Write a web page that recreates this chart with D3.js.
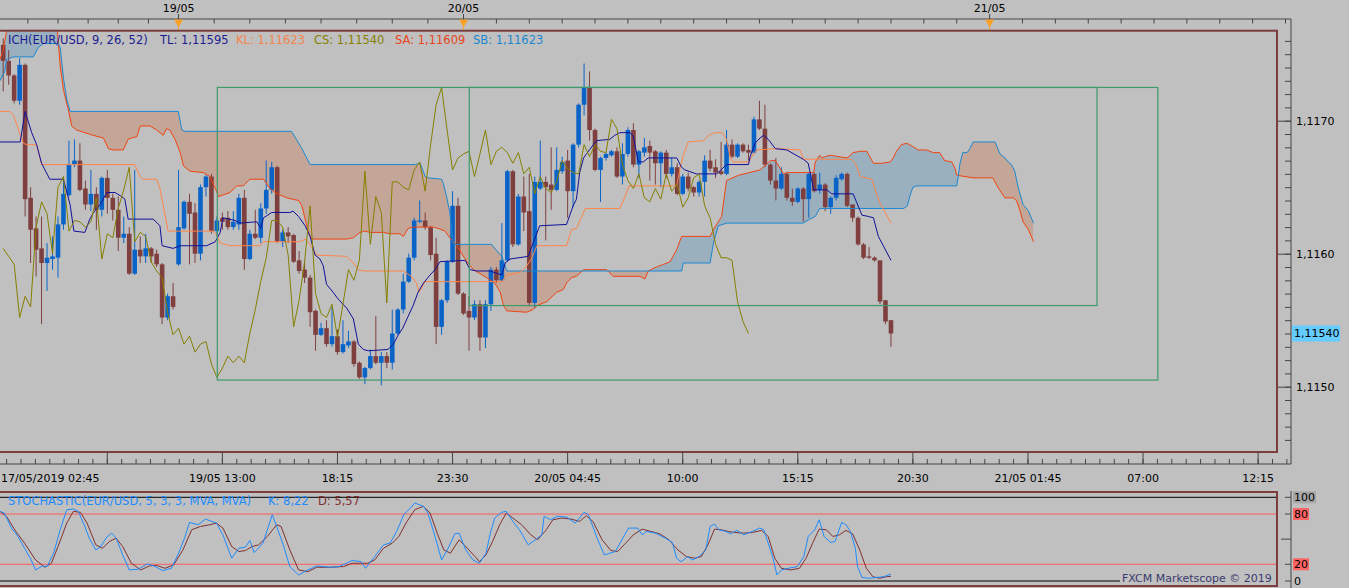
<!DOCTYPE html>
<html>
<head>
<meta charset="utf-8">
<script src="https://cdn.jsdelivr.net/npm/d3@7/dist/d3.min.js"></script>
<style>
  html, body { margin: 0; padding: 0; background: #c0c0c0; overflow: hidden; }
  svg { display: block; font-family: "DejaVu Sans", Verdana, sans-serif; font-size: 11px; }
  .legend { font-size: 11.5px; }
</style>
</head>
<body>
<div id="chart"></div>
<script>
// EUR/USD 15 min candles, bar 0 = first visible bar (17/05 03:00)
let open = [1.11757,1.11745,1.11734,1.11715,1.11742,1.11642,1.11619,1.11604,1.11593,1.11596,1.11597,1.11622,1.11644,1.11667,1.11670,1.11649,1.11637,1.11645,1.11633,1.11657,
  1.11642,1.11633,1.11612,1.11615,1.11585,1.11603,1.11598,1.11604,1.11600,1.11592,1.11552,1.11568,1.11592,1.11619,1.11639,1.11631,1.11600,1.11650,1.11658,1.11617,
  1.11627,1.11627,1.11620,1.11622,1.11642,1.11596,1.11615,1.11612,1.11634,1.11648,1.11665,1.11609,1.11616,1.11614,1.11595,1.11588,1.11582,1.11557,1.11539,1.11544,
  1.11532,1.11538,1.11526,1.11531,1.11534,1.11518,1.11507,1.11514,1.11523,1.11518,1.11523,1.11518,1.11540,1.11558,1.11579,1.11597,1.11624,1.11625,1.11620,1.11600,
  1.11545,1.11565,1.11594,1.11636,1.11570,1.11557,1.11552,1.11562,1.11537,1.11562,1.11588,1.11580,1.11595,1.11662,1.11607,1.11643,1.11632,1.11563,1.11649,1.11654,
  1.11652,1.11648,1.11662,1.11670,1.11647,1.11682,1.11712,1.11725,1.11693,1.11663,1.11672,1.11674,1.11677,1.11658,1.11675,1.11693,1.11667,1.11676,1.11681,1.11677,
  1.11668,1.11676,1.11660,1.11665,1.11645,1.11658,1.11650,1.11646,1.11654,1.11670,1.11665,1.11662,1.11660,1.11682,1.11673,1.11682,1.11678,1.11676,1.11701,1.11694,
  1.11667,1.11655,1.11649,1.11660,1.11642,1.11639,1.11649,1.11641,1.11660,1.11648,1.11652,1.11635,1.11642,1.11656,1.11660,1.11637,1.11627,1.11607,1.11598,1.11597,
  1.11595,1.11565,1.11550];
let high = [1.11762,1.11753,1.11735,1.11747,1.11743,1.11650,1.11628,1.11628,1.11608,1.11613,1.11628,1.11658,1.11685,1.11686,1.11683,1.11655,1.11663,1.11650,1.11658,1.11663,
  1.11645,1.11643,1.11628,1.11620,1.11663,1.11613,1.11615,1.11605,1.11603,1.11593,1.11570,1.11578,1.11663,1.11640,1.11645,1.11638,1.11652,1.11659,1.11660,1.11628,
  1.11631,1.11632,1.11632,1.11645,1.11648,1.11618,1.11633,1.11638,1.11670,1.11669,1.11666,1.11618,1.11620,1.11615,1.11602,1.11595,1.11584,1.11558,1.11548,1.11550,
  1.11560,1.11543,1.11550,1.11542,1.11535,1.11519,1.11515,1.11528,1.11553,1.11526,1.11526,1.11558,1.11559,1.11585,1.11600,1.11627,1.11640,1.11631,1.11621,1.11612,
  1.11566,1.11595,1.11647,1.11642,1.11571,1.11568,1.11565,1.11565,1.11565,1.11590,1.11590,1.11623,1.11663,1.11663,1.11645,1.11658,1.11660,1.11658,1.11685,1.11658,
  1.11680,1.11680,1.11673,1.11678,1.11683,1.11713,1.11743,1.11737,1.11694,1.11673,1.11676,1.11678,1.11680,1.11683,1.11695,1.11698,1.11678,1.11687,1.11685,1.11678,
  1.11677,1.11678,1.11672,1.11668,1.11660,1.11661,1.11651,1.11655,1.11674,1.11678,1.11671,1.11684,1.11693,1.11686,1.11683,1.11683,1.11682,1.11703,1.11715,1.11712,
  1.11668,1.11672,1.11665,1.11661,1.11649,1.11650,1.11650,1.11661,1.11661,1.11661,1.11653,1.11643,1.11659,1.11661,1.11661,1.11637,1.11628,1.11608,1.11605,1.11598,
  1.11595,1.11565,1.11550];
let low = [1.11722,1.11727,1.11713,1.11712,1.11628,1.11593,1.11583,1.11547,1.11572,1.11588,1.11582,1.11618,1.11643,1.11665,1.11647,1.11633,1.11632,1.11618,1.11628,1.11630,
  1.11625,1.11602,1.11608,1.11584,1.11584,1.11593,1.11593,1.11593,1.11590,1.11547,1.11550,1.11558,1.11591,1.11618,1.11592,1.11593,1.11595,1.11643,1.11615,1.11613,
  1.11618,1.11618,1.11618,1.11618,1.11588,1.11595,1.11611,1.11608,1.11630,1.11645,1.11608,1.11605,1.11608,1.11593,1.11585,1.11578,1.11545,1.11527,1.11538,1.11530,
  1.11530,1.11524,1.11525,1.11529,1.11515,1.11506,1.11502,1.11513,1.11517,1.11501,1.11514,1.11513,1.11539,1.11555,1.11578,1.11595,1.11623,1.11618,1.11595,1.11532,
  1.11539,1.11563,1.11593,1.11569,1.11554,1.11527,1.11550,1.11527,1.11529,1.11557,1.11578,1.11579,1.11594,1.11605,1.11606,1.11617,1.11561,1.11559,1.11648,1.11610,
  1.11633,1.11647,1.11660,1.11627,1.11635,1.11680,1.11704,1.11685,1.11662,1.11639,1.11670,1.11673,1.11657,1.11652,1.11673,1.11665,1.11657,1.11673,1.11655,1.11652,
  1.11650,1.11657,1.11658,1.11644,1.11644,1.11647,1.11643,1.11643,1.11643,1.11662,1.11657,1.11659,1.11659,1.11672,1.11672,1.11676,1.11670,1.11675,1.11693,1.11665,
  1.11652,1.11640,1.11648,1.11640,1.11636,1.11638,1.11624,1.11627,1.11646,1.11645,1.11632,1.11630,1.11640,1.11655,1.11635,1.11624,1.11606,1.11596,1.11596,1.11594,
  1.11562,1.11547,1.11530];
let close = [1.11745,1.11734,1.11715,1.11742,1.11641,1.11618,1.11603,1.11593,1.11597,1.11598,1.11622,1.11645,1.11667,1.11670,1.11648,1.11637,1.11645,1.11633,1.11657,1.11642,
  1.11633,1.11612,1.11615,1.11585,1.11603,1.11598,1.11604,1.11598,1.11592,1.11552,1.11568,1.11560,1.11620,1.11639,1.11630,1.11600,1.11650,1.11658,1.11617,1.11625,
  1.11624,1.11620,1.11624,1.11642,1.11596,1.11615,1.11612,1.11634,1.11648,1.11665,1.11609,1.11616,1.11613,1.11594,1.11587,1.11582,1.11556,1.11539,1.11544,1.11532,
  1.11538,1.11526,1.11532,1.11534,1.11517,1.11507,1.11514,1.11523,1.11518,1.11523,1.11518,1.11540,1.11558,1.11579,1.11597,1.11625,1.11625,1.11620,1.11599,1.11545,
  1.11565,1.11594,1.11636,1.11570,1.11555,1.11552,1.11562,1.11537,1.11562,1.11588,1.11580,1.11595,1.11662,1.11607,1.11643,1.11631,1.11563,1.11654,1.11654,1.11650,
  1.11648,1.11663,1.11669,1.11647,1.11682,1.11712,1.11725,1.11693,1.11663,1.11672,1.11675,1.11677,1.11658,1.11675,1.11693,1.11667,1.11677,1.11680,1.11676,1.11668,
  1.11676,1.11660,1.11665,1.11645,1.11658,1.11649,1.11646,1.11654,1.11670,1.11664,1.11661,1.11660,1.11682,1.11673,1.11682,1.11677,1.11676,1.11701,1.11694,1.11667,
  1.11655,1.11649,1.11660,1.11642,1.11639,1.11649,1.11641,1.11660,1.11647,1.11652,1.11635,1.11642,1.11657,1.11660,1.11636,1.11627,1.11607,1.11597,1.11597,1.11595,
  1.11564,1.11549,1.11540];

// ichimoku lines as [bar, price]
let tenkan = [[-0.6,1.11684],[3.1,1.11684],[4.0,1.11707],[5.2,1.11691],[6.1,1.11682],[7.0,1.11668],[8.5,1.11656],[11.0,1.11656],[12.2,1.11637],[12.9,1.11617],[14.9,1.11616],[15.8,1.11626],[16.5,1.11631],[17.7,1.11637],[18.9,1.11646],[20.4,1.11646],[21.6,1.11643],[22.2,1.11641],[22.8,1.11626],[27.4,1.11626],[28.6,1.11621],[29.0,1.11606],[31.0,1.11604],[32.3,1.11606],[37.1,1.11606],[38.7,1.11609],[39.6,1.11616],[40.1,1.11627],[42.3,1.11625],[43.2,1.11623],[46.3,1.11624],[47.0,1.11619],[47.5,1.11627],[49.0,1.11631],[52.3,1.11631],[52.9,1.11632],[53.9,1.11628],[55.1,1.11621],[56.0,1.11613],[56.9,1.11599],[57.8,1.11596],[58.4,1.11591],[59.0,1.11577],[60.2,1.11571],[61.1,1.11566],[62.7,1.11559],[63.9,1.11551],[64.8,1.11532],[65.7,1.11528],[66.6,1.11527],[70.2,1.11528],[71.2,1.11532],[72.1,1.11539],[72.9,1.11544],[73.9,1.11553],[74.8,1.11561],[75.7,1.11571],[76.7,1.11578],[77.9,1.11584],[78.8,1.11588],[79.7,1.11594],[84.3,1.11595],[85.2,1.11588],[86.4,1.11587],[88.8,1.11587],[91.0,1.11584],[91.6,1.11593],[92.5,1.11596],[95.8,1.11598],[96.7,1.11608],[97.9,1.11621],[102.8,1.11622],[103.4,1.11629],[104.0,1.11636],[104.6,1.11641],[105.2,1.11661],[105.9,1.11672],[107.7,1.11682],[108.3,1.11685],[110.7,1.11686],[111.6,1.11689],[112.5,1.11691],[114.4,1.11691],[115.0,1.11688],[115.9,1.11669],[116.8,1.11669],[117.7,1.11672],[122.9,1.11672],[123.8,1.11665],[124.4,1.11663],[126.5,1.11660],[130.2,1.11660],[132.0,1.11667],[136.0,1.11667],[136.3,1.11673],[137.2,1.11683],[138.1,1.11687],[138.8,1.11689],[139.6,1.11686],[140.9,1.11679],[143.0,1.11678],[146.0,1.11671],[146.9,1.11668],[147.9,1.11648],[150.3,1.11648],[151.2,1.11645],[155.1,1.11645],[155.7,1.11639],[156.7,1.11629],[157.9,1.11628],[158.8,1.11627],[159.7,1.11613],[160.6,1.11606],[162,1.11595]];
let kijun = [[-0.6,1.11707],[1.2,1.11707],[1.9,1.11704],[2.8,1.11693],[3.7,1.11683],[4.3,1.11682],[6.1,1.11682],[7.0,1.11667],[24.0,1.11667],[25.0,1.11658],[25.6,1.11656],[28.0,1.11656],[28.6,1.11649],[29.2,1.11636],[30.1,1.11617],[38.4,1.11617],[39.0,1.11614],[39.6,1.11608],[41.4,1.11606],[46.9,1.11606],[47.5,1.11609],[54.2,1.11609],[55.1,1.11611],[56.0,1.11607],[57.2,1.11599],[62.7,1.11598],[63.9,1.11593],[64.8,1.11588],[65.7,1.11587],[73.0,1.11587],[74.5,1.11583],[75.4,1.11578],[75.9,1.11571],[77.0,1.11579],[91.0,1.11579],[91.9,1.11584],[94.3,1.11586],[95.2,1.11589],[96.4,1.11596],[97.4,1.11606],[102.8,1.11606],[103.7,1.11618],[104.6,1.11619],[105.6,1.11628],[106.2,1.11634],[112.5,1.11634],[113.4,1.11642],[114.2,1.11651],[122.9,1.11651],[123.5,1.11664],[124.1,1.11674],[125.0,1.11684],[127.8,1.11685],[128.7,1.11689],[129.9,1.11691],[131.2,1.11691],[132.0,1.11686],[132.7,1.11672],[133.2,1.11669],[136.0,1.11669],[136.9,1.11675],[137.5,1.11678],[140.9,1.11679],[145.4,1.11678],[146.0,1.11671],[154.8,1.11671],[155.5,1.11668],[156.4,1.11658],[158.5,1.11656],[159.1,1.11648],[160.0,1.11638],[162,1.11623]];
let senkouA = [[-0.6,1.11746],[0.0,1.11753],[0.6,1.11767],[1.0,1.11779],[8.5,1.11783],[9.8,1.11772],[10.4,1.11741],[11.0,1.11723],[11.9,1.11708],[12.5,1.11696],[13.4,1.11693],[16.4,1.11689],[18.3,1.11687],[19.2,1.11679],[20.1,1.11678],[21.9,1.11678],[22.8,1.11686],[23.4,1.11687],[24.4,1.11688],[25.0,1.11696],[26.8,1.11696],[28.0,1.11693],[29.2,1.11689],[29.8,1.11694],[30.4,1.11693],[31.35,1.11686],[32.3,1.11676],[32.9,1.11666],[34.1,1.11662],[36.5,1.11661],[37.7,1.11658],[38.7,1.11649],[39.3,1.11643],[41.4,1.11646],[42.6,1.11651],[43.8,1.11651],[45.0,1.11656],[47.5,1.11656],[48.7,1.11649],[49.6,1.11646],[51.7,1.11642],[53.9,1.11640],[54.5,1.11636],[55.1,1.11626],[55.7,1.11616],[56.3,1.11611],[62.7,1.11611],[63.9,1.11612],[65.1,1.11616],[66.0,1.11617],[66.9,1.11616],[69.4,1.11616],[70.6,1.11615],[72.4,1.11615],[73.0,1.11613],[73.9,1.11619],[74.8,1.11620],[78.5,1.11620],[79.4,1.11619],[80.6,1.11617],[81.5,1.11612],[82.8,1.11606],[84.6,1.11594],[85.8,1.11588],[88.2,1.11582],[89.7,1.11578],[90.7,1.11571],[91.3,1.11561],[91.9,1.11557],[95.5,1.11556],[96.7,1.11558],[97.4,1.11561],[99.2,1.11564],[101.0,1.11571],[102.2,1.11573],[102.8,1.11578],[103.7,1.11582],[104.6,1.11583],[105.9,1.11588],[110.1,1.11588],[111.3,1.11583],[112.5,1.11583],[116.2,1.11583],[117.1,1.11581],[117.7,1.11587],[119.2,1.11590],[120.5,1.11592],[121.7,1.11594],[122.9,1.11603],[123.8,1.11613],[129.0,1.11613],[129.6,1.11618],[131.1,1.11628],[132.0,1.11655],[134.2,1.11659],[138.1,1.11663],[140.0,1.11670],[140.9,1.11670],[142.4,1.11660],[143.0,1.11661],[147.9,1.11661],[148.2,1.11669],[149.0,1.11674],[149.4,1.11672],[150.0,1.11673],[150.9,1.11674],[154.0,1.11672],[155.1,1.11676],[156.4,1.11677],[157.6,1.11677],[158.0,1.11674],[158.8,1.11668],[160.3,1.11668],[161.9,1.11669],[162.4,1.11672],[163.0,1.11677],[163.9,1.11682],[164.9,1.11683],[165.8,1.11681],[167.0,1.11678],[168.5,1.11678],[169.7,1.11676],[170.9,1.11676],[171.8,1.11670],[173.1,1.11669],[173.7,1.11664],[174.0,1.11659],[177.0,1.11657],[180.6,1.11657],[181.5,1.11650],[182.8,1.11642],[184.3,1.11642],[184.9,1.11640],[185.5,1.11633],[186.1,1.11624],[187.1,1.11618],[188,1.11609]];
let senkouB = [[-0.6,1.11730],[0.3,1.11737],[0.6,1.11746],[1.8,1.11748],[5.5,1.11748],[6.4,1.11755],[7.3,1.11758],[10.05,1.11758],[10.4,1.11755],[11.0,1.11732],[11.6,1.11716],[12.2,1.11707],[31.95,1.11707],[32.6,1.11693],[33.2,1.11692],[52.6,1.11692],[53.5,1.11686],[54.5,1.11679],[56.0,1.11667],[75.2,1.11667],[76.1,1.11668],[77.0,1.11658],[77.6,1.11657],[80.0,1.11656],[80.3,1.11653],[80.9,1.11643],[81.5,1.11631],[82.1,1.11608],[82.4,1.11607],[89.1,1.11607],[90.1,1.11602],[91.0,1.11598],[91.9,1.11587],[123.8,1.11587],[124.1,1.11593],[129.0,1.11593],[129.6,1.11608],[130.5,1.11621],[132.0,1.11623],[146.0,1.11623],[147.2,1.11626],[148.2,1.11628],[149.0,1.11634],[164.3,1.11634],[165.0,1.11636],[165.5,1.11644],[166.0,1.11650],[166.7,1.11651],[174.0,1.11651],[174.3,1.11659],[174.6,1.11668],[175.1,1.11676],[175.9,1.11676],[176.4,1.11679],[177.0,1.11684],[181.0,1.11684],[181.9,1.11675],[182.8,1.11672],[183.4,1.11669],[184.0,1.11667],[184.6,1.11662],[185.2,1.11650],[186.1,1.11637],[187.1,1.11632],[188,1.11623]];
let chikouShift = 26;

// stochastic (5,3,3) as [bar, value]
let stochK = [[-0.6,83.2],[0.2,81.2],[1.5,63.2],[2.7,53.2],[3.9,39.2],[5.1,25.2],[5.9,13.2],[7.2,18],[8.0,17.2],[9.2,33.2],[10.4,61.2],[11.6,85.2],[12.8,86],[13.7,83.2],[14.9,65.2],[15.7,51.2],[16.9,37.2],[17.7,40.4],[18.9,52.4],[19.8,57.2],[20.6,51.2],[21.8,31.2],[23.0,13.2],[24.6,14],[26.3,20.4],[27.5,18],[29.1,12.4],[30.7,15.2],[32.0,33.2],[33.2,53.2],[34.0,70],[35.6,67.2],[36.9,74],[38.9,69.2],[40.1,55.2],[41.7,27.2],[43.0,39.2],[44.2,40.4],[45.0,48.4],[45.8,34],[47.4,45.2],[48.2,61.2],[49.1,79.2],[49.9,65.2],[51.1,43.2],[52.3,17.2],[53.9,7.2],[55.6,13.2],[57.2,18],[59.6,16.4],[61.3,17.2],[63.7,24.4],[65.3,23.2],[66.1,15.2],[67.8,29.2],[69.4,43.2],[70.6,45.2],[71.8,59.2],[73.1,79.2],[74.3,87.2],[75.1,93.2],[76.7,89.2],[77.5,81.2],[78.8,53.2],[80.0,25.2],[81.2,39.2],[82.4,56.4],[83.2,57.2],[84.4,37.2],[85.7,25.2],[86.9,21.2],[88.1,33.2],[88.9,57.2],[89.7,75.2],[90.9,82],[91.8,83.2],[93.0,71.2],[94.2,61.2],[95.8,43.2],[97.1,49.2],[98.3,55.2],[98.7,77.2],[99.9,73.2],[101.1,77.2],[102.8,76.4],[104.4,69.2],[106.0,82],[106.8,79.2],[108.5,49.2],[109.7,31.2],[111.7,35.2],[112.9,49.2],[114.1,63.2],[115.8,63.2],[116.6,55.2],[117.4,59.2],[119.0,57.2],[120.9,51],[122.1,46],[122.9,27],[123.7,23],[124.9,29],[125.8,25.2],[127.0,29.2],[128.2,37.2],[129.0,65.2],[129.8,68],[130.6,61.2],[131.9,59.2],[132.7,56.4],[133.9,60.4],[135.1,55.2],[136.7,59.2],[138.0,63.2],[138.8,61.2],[139.6,45.2],[140.4,29.2],[141.2,7.2],[142.0,13.2],[143.3,15.2],[144.9,17.2],[146.1,29.2],[146.9,53.2],[148.1,61.2],[148.9,73.2],[149.8,53.2],[151.0,46],[151.8,47.2],[153.0,70],[153.8,67.2],[154.6,59.2],[155.5,39.2],[155.9,17.2],[156.7,4.4],[157.9,3.2],[159.5,4.4],[160.7,5.2],[162,8.22]];
let stochD = [[-0.6,83.2],[0.6,77.2],[2.3,59.2],[3.9,45.2],[5.9,25.2],[7.6,16.4],[8.8,21.2],[10.0,41.2],[11.6,69.2],[12.8,83.2],[14.1,82],[15.3,69.2],[16.9,43.2],[18.1,39.2],[19.4,47.2],[20.6,51.2],[21.8,41.2],[23.4,21.2],[25.1,13.2],[26.7,18],[27.9,18.8],[29.5,15.2],[31.1,19.2],[32.8,37.2],[34.4,61.2],[36.0,65.2],[37.7,67.2],[38.9,69.2],[40.1,63.2],[41.7,41.2],[43.0,35.2],[44.2,36.4],[45.4,41.2],[46.6,43.2],[48.2,53.2],[49.9,67.2],[50.7,65.2],[52.3,37.2],[53.9,13.2],[55.6,11.2],[57.2,16.4],[59.6,16.4],[62.1,17.2],[63.7,21.2],[66.5,21.2],[67.8,25.2],[69.4,39.2],[71.0,45.2],[72.2,53.2],[73.5,69.2],[75.1,85.2],[76.7,89.2],[77.9,81.2],[79.2,57.2],[80.4,37.2],[81.6,33.2],[83.2,49.2],[84.4,41.2],[86.1,29.2],[86.9,23.2],[88.1,31.2],[89.3,47.2],[90.6,67.2],[91.8,81.2],[93.0,75.2],[94.6,67.2],[96.3,55.2],[97.5,49.2],[99.1,61.2],[100.3,73.2],[101.9,75.2],[103.6,74],[105.2,71.2],[106.4,78],[107.6,71.2],[109.3,49.2],[110.9,36.4],[112.1,35.2],[113.3,43.2],[115.0,55.2],[116.6,62],[118.2,59.2],[119.8,56.4],[121.5,49.2],[123.1,37.2],[124.7,29.2],[126.2,27.2],[127.4,29.2],[128.6,43.2],[129.8,62],[131.0,61.2],[132.3,59.2],[133.5,58],[135.1,57.2],[136.7,58],[138.4,60.4],[139.6,53.2],[140.8,27.2],[142.0,15.2],[143.7,13.2],[145.3,15.2],[146.5,27.2],[147.7,45.2],[148.9,62],[150.2,61.2],[151.4,53.2],[152.6,55.2],[153.8,60.4],[155.0,56.4],[156.3,37.2],[157.5,15.2],[158.7,5.2],[159.9,3.2],[161.2,5.2],[162,5.57]];
let stochLevels = [80, 20];

// drawn rectangles [bar from, bar to, price top, price bottom]
let boxes = [[39.07, 210.7, 1.11725, 1.11505], [85.05, 199.6, 1.11725, 1.11561]];

// axis labels
let priceLabels = [1.1150, 1.1160, 1.1170];
let lastPrice = 1.11540;
let dayBars = [32, 84, 180];
let dayLabels = ['19/05', '20/05', '21/05'];
let timeBars = [40, 61, 82, 103, 124, 145, 166, 187, 208, 229];
let timeLabels = ['19/05 13:00', '18:15', '23:30', '20/05 04:45', '10:00', '15:15', '20:30', '21/05 01:45', '07:00', '12:15'];
let firstTimeLabel = '17/05/2019 02:45';

let width = 1349, height = 588;
let plot = {left: 0, right: 1277, top: 31, bottom: 452};
let axisX = 1291;
let stochBox = {top: 492, bottom: 586};

let svg = d3.select('#chart').append('svg').attr('width', width).attr('height', height);
svg.append('rect').attr('width', width).attr('height', height).attr('fill', '#c0c0c0');

let x = d3.scaleLinear().domain([0, 162]).range([3.2, 3.2 + 162 * 5.48]);
let y = d3.scaleLinear().domain([1.1150, 1.1170]).range([386.7, 120.7]);
let ys = d3.scaleLinear().domain([0, 100]).range([581, 497.3]);
let fmtPrice = d => d3.format('.4f')(d).replace('.', ',');

let defs = svg.append('defs');
defs.append('clipPath').attr('id', 'plotClip').append('rect')
  .attr('x', plot.left).attr('y', plot.top).attr('width', plot.right - plot.left).attr('height', plot.bottom - plot.top);
defs.append('clipPath').attr('id', 'stochClip').append('rect')
  .attr('x', 0).attr('y', stochBox.top).attr('width', plot.right).attr('height', stochBox.bottom - stochBox.top);

let line = d3.line().x(d => x(d[0])).y(d => y(d[1]));
let areaToTop = d3.area().x(d => x(d[0])).y0(-100).y1(d => y(d[1]));
let areaToBottom = d3.area().x(d => x(d[0])).y0(700).y1(d => y(d[1]));
defs.append('clipPath').attr('id', 'aboveSB').append('path').attr('d', areaToTop(senkouB));
defs.append('clipPath').attr('id', 'aboveSA').append('path').attr('d', areaToTop(senkouA));

let main = svg.append('g').attr('clip-path', 'url(#plotClip)');

// cloud: blue where SA is above SB, brown where SB is above SA
main.append('path').attr('d', areaToBottom(senkouA)).attr('fill', '#9bb0bf').attr('clip-path', 'url(#aboveSB)');
main.append('path').attr('d', areaToBottom(senkouB)).attr('fill', '#c4a698').attr('clip-path', 'url(#aboveSA)');

// candles
let bars = d3.range(close.length);
let candle = main.selectAll('.candle').data(bars).enter().append('g').attr('class', 'candle');
candle.append('line')
  .attr('x1', i => x(i)).attr('x2', i => x(i))
  .attr('y1', i => y(high[i])).attr('y2', i => y(low[i]))
  .attr('stroke', i => close[i] >= open[i] ? '#0a64c8' : '#7f3f3f').attr('stroke-width', 1);
candle.append('rect')
  .attr('x', i => x(i) - 2.3).attr('width', 4.6)
  .attr('y', i => y(Math.max(open[i], close[i])))
  .attr('height', i => Math.max(1, Math.abs(y(open[i]) - y(close[i]))))
  .attr('fill', i => close[i] >= open[i] ? '#0a64c8' : '#7f3f3f');

main.append('path').attr('d', line(senkouA)).attr('fill', 'none').attr('stroke', '#f04412').attr('stroke-width', 1);
main.append('path').attr('d', line(senkouB)).attr('fill', 'none').attr('stroke', '#1a88d0').attr('stroke-width', 1);
main.append('path').attr('d', line(kijun)).attr('fill', 'none').attr('stroke', '#ff8448').attr('stroke-width', 1);
main.append('path').attr('d', line(tenkan)).attr('fill', 'none').attr('stroke', '#10109a').attr('stroke-width', 1);
let chikou = close.slice(chikouShift).map((c, i) => [i, c]);
main.append('path').attr('d', line(chikou)).attr('fill', 'none').attr('stroke', '#858000').attr('stroke-width', 1);

main.selectAll('.box').data(boxes).enter().append('rect').attr('class', 'box')
  .attr('x', d => x(d[0])).attr('y', d => y(d[2]))
  .attr('width', d => x(d[1]) - x(d[0])).attr('height', d => y(d[3]) - y(d[2]))
  .attr('fill', 'none').attr('stroke', '#3d9a6c').attr('stroke-width', 1.2);

// chart border
svg.append('rect').attr('x', -2).attr('y', 30.7).attr('width', plot.right + 2).attr('height', plot.bottom - 30.7)
  .attr('fill', 'none').attr('stroke', '#7b3d3d').attr('stroke-width', 2);

// legend
let legend = [
  {t: 'ICH(EUR/USD, 9, 26, 52)', x: 8, c: '#1c1c90'},
  {t: 'TL: 1,11595', x: 160, c: '#1c1c90'},
  {t: 'KL: 1,11623', x: 236, c: '#f5844c'},
  {t: 'CS: 1,11540', x: 314, c: '#858000'},
  {t: 'SA: 1,11609', x: 395, c: '#e8441a'},
  {t: 'SB: 1,11623', x: 473, c: '#1a88d0'}
];
svg.selectAll('.legend').data(legend).enter().append('text').attr('class', 'legend')
  .attr('x', d => d.x).attr('y', 39.5).attr('dy', '0.35em').attr('fill', d => d.c).text(d => d.t);

// axis frame
let axisColor = '#454545';
svg.append('line').attr('x1', 0).attr('x2', axisX).attr('y1', 19).attr('y2', 19).attr('stroke', axisColor);
svg.append('line').attr('x1', 0).attr('x2', axisX).attr('y1', 464).attr('y2', 464).attr('stroke', axisColor);
svg.append('line').attr('x1', axisX).attr('x2', axisX).attr('y1', 19).attr('y2', 464).attr('stroke', axisColor);

// right price axis
let minorPrices = d3.range(11144, 11178).map(v => v / 10000).filter(p => y(p) > plot.top + 2 && y(p) < plot.bottom - 2);
let axisG = svg.append('g').attr('transform', 'translate(' + axisX + ',0)');
axisG.call(d3.axisRight(y).tickValues(minorPrices).tickSize(-6).tickFormat(''));
axisG.append('g').call(d3.axisRight(y).tickValues(priceLabels).tickSize(-13).tickPadding(5).tickFormat(fmtPrice));
axisG.selectAll('.domain').remove();
axisG.selectAll('line').attr('stroke', axisColor);
axisG.selectAll('text').attr('fill', '#000').style('font-family', '"DejaVu Sans", Verdana, sans-serif').style('font-size', '11px');

let lp = svg.append('g').attr('transform', 'translate(' + (axisX + 1) + ',' + y(lastPrice) + ')');
lp.append('rect').attr('x', 0).attr('y', -8).attr('width', 48).attr('height', 16).attr('fill', '#66ccff');
lp.append('text').attr('x', 2).attr('dy', '0.35em').attr('fill', '#000').text(d3.format('.5f')(lastPrice).replace('.', ','));

// top axis: day markers and ticks
let topTicks = d3.range(4.5, 32, 5.5).concat(d3.range(32, 84, 6.5), d3.range(84, 236, 6)).filter(n => x(n) < axisX);
svg.selectAll('.ttick').data(topTicks).enter().append('line').attr('class', 'ttick')
  .attr('x1', d => x(d)).attr('x2', d => x(d)).attr('y1', 19).attr('y2', 23.5).attr('stroke', axisColor);
svg.selectAll('.dtick').data(dayBars).enter().append('line').attr('class', 'dtick')
  .attr('x1', d => x(d)).attr('x2', d => x(d)).attr('y1', 14).attr('y2', 19).attr('stroke', axisColor);
svg.selectAll('.dlabel').data(dayBars).enter().append('text').attr('class', 'dlabel')
  .attr('x', d => x(d)).attr('y', 8).attr('dy', '0.35em').attr('text-anchor', 'middle').attr('fill', '#000')
  .text((d, i) => dayLabels[i]);
svg.selectAll('.dmark').data(dayBars).enter().append('path').attr('class', 'dmark')
  .attr('d', d => 'M' + (x(d) - 4.5) + ',19.5L' + (x(d) + 4.5) + ',19.5L' + x(d) + ',27.5Z')
  .attr('fill', '#f7a02a');
svg.selectAll('.dstem').data(dayBars).enter().append('line').attr('class', 'dstem')
  .attr('x1', d => x(d)).attr('x2', d => x(d)).attr('y1', 27).attr('y2', 30).attr('stroke', '#f7a02a');

// bottom time axis
let minorTime = d3.range(-2, 240, 21 / 8).filter(n => x(n) > 0 && x(n) < axisX);
svg.selectAll('.btick').data(minorTime).enter().append('line').attr('class', 'btick')
  .attr('x1', d => x(d)).attr('x2', d => x(d)).attr('y1', 459).attr('y2', 464).attr('stroke', axisColor);
let majorTime = [19].concat(timeBars);
svg.selectAll('.bmajor').data(majorTime).enter().append('line').attr('class', 'bmajor')
  .attr('x1', d => x(d)).attr('x2', d => x(d)).attr('y1', 452).attr('y2', 464).attr('stroke', axisColor);
svg.selectAll('.blabel').data(timeBars).enter().append('text').attr('class', 'blabel')
  .attr('x', d => x(d)).attr('y', 478).attr('dy', '0.35em').attr('text-anchor', 'middle').attr('fill', '#000')
  .text((d, i) => timeLabels[i]);
svg.append('text').attr('x', 1).attr('y', 478).attr('dy', '0.35em').attr('fill', '#000').text(firstTimeLabel);

// stochastic panel
let sline = d3.line().x(d => x(d[0])).y(d => ys(d[1]));
let sg = svg.append('g').attr('clip-path', 'url(#stochClip)');
sg.append('line').attr('x1', 0).attr('x2', plot.right).attr('y1', ys(100)).attr('y2', ys(100)).attr('stroke', '#000');
sg.append('line').attr('x1', 0).attr('x2', plot.right).attr('y1', ys(0)).attr('y2', ys(0)).attr('stroke', '#000');
sg.selectAll('.lvl').data(stochLevels).enter().append('line').attr('class', 'lvl')
  .attr('x1', 0).attr('x2', plot.right).attr('y1', d => ys(d)).attr('y2', d => ys(d)).attr('stroke', '#ff5a5a');
sg.append('path').attr('d', sline(stochD)).attr('fill', 'none').attr('stroke', '#7f3030').attr('stroke-width', 1);
sg.append('path').attr('d', sline(stochK)).attr('fill', 'none').attr('stroke', '#1e8cff').attr('stroke-width', 1);

let fx = svg.append('g');
fx.append('rect').attr('x', 1120).attr('y', 571).attr('width', 156).attr('height', 14).attr('fill', '#c0c0c0');
fx.append('text').attr('x', 1122).attr('y', 578).attr('dy', '0.35em').attr('fill', '#3a3a6e').text('FXCM Marketscope \u00a9 2019');

svg.append('rect').attr('x', -2).attr('y', stochBox.top).attr('width', plot.right + 2).attr('height', stochBox.bottom - stochBox.top)
  .attr('fill', 'none').attr('stroke', '#7b3d3d').attr('stroke-width', 2);

let stochLegend = [
  {t: 'STOCHASTIC(EUR/USD, 5, 3, 3, MVA, MVA)', x: 8, c: '#1e8cff'},
  {t: 'K: 8,22', x: 268, c: '#1e8cff'},
  {t: 'D: 5,57', x: 318, c: '#7f3030'}
];
svg.selectAll('.slegend').data(stochLegend).enter().append('text').attr('class', 'legend slegend')
  .attr('x', d => d.x).attr('y', 500.5).attr('dy', '0.35em').attr('fill', d => d.c).text(d => d.t);

// stochastic right axis
svg.append('line').attr('x1', axisX).attr('x2', axisX).attr('y1', 491).attr('y2', 588).attr('stroke', axisColor);
let sTicks = [0, 20, 50, 80, 100];
svg.selectAll('.stick').data(sTicks).enter().append('line').attr('class', 'stick')
  .attr('x1', d => d === 50 ? axisX - 10 : axisX - 6).attr('x2', axisX)
  .attr('y1', d => ys(d)).attr('y2', d => ys(d)).attr('stroke', axisColor);
let sLabels = [{v: 100, bg: '#a6a6a6'}, {v: 80, bg: '#ff6464'}, {v: 20, bg: '#ff6464'}, {v: 0, bg: null}];
let sl = svg.selectAll('.slabel').data(sLabels).enter().append('g').attr('class', 'slabel')
  .attr('transform', d => 'translate(' + (axisX + 2) + ',' + ys(d.v) + ')');
sl.filter(d => d.bg).append('rect').attr('x', 0).attr('y', -6).attr('height', 12)
  .attr('width', d => String(d.v).length * 7 + 2).attr('fill', d => d.bg);
sl.append('text').attr('x', 1).attr('dy', '0.35em').attr('fill', '#000').text(d => d.v);
</script>
</body>
</html>
